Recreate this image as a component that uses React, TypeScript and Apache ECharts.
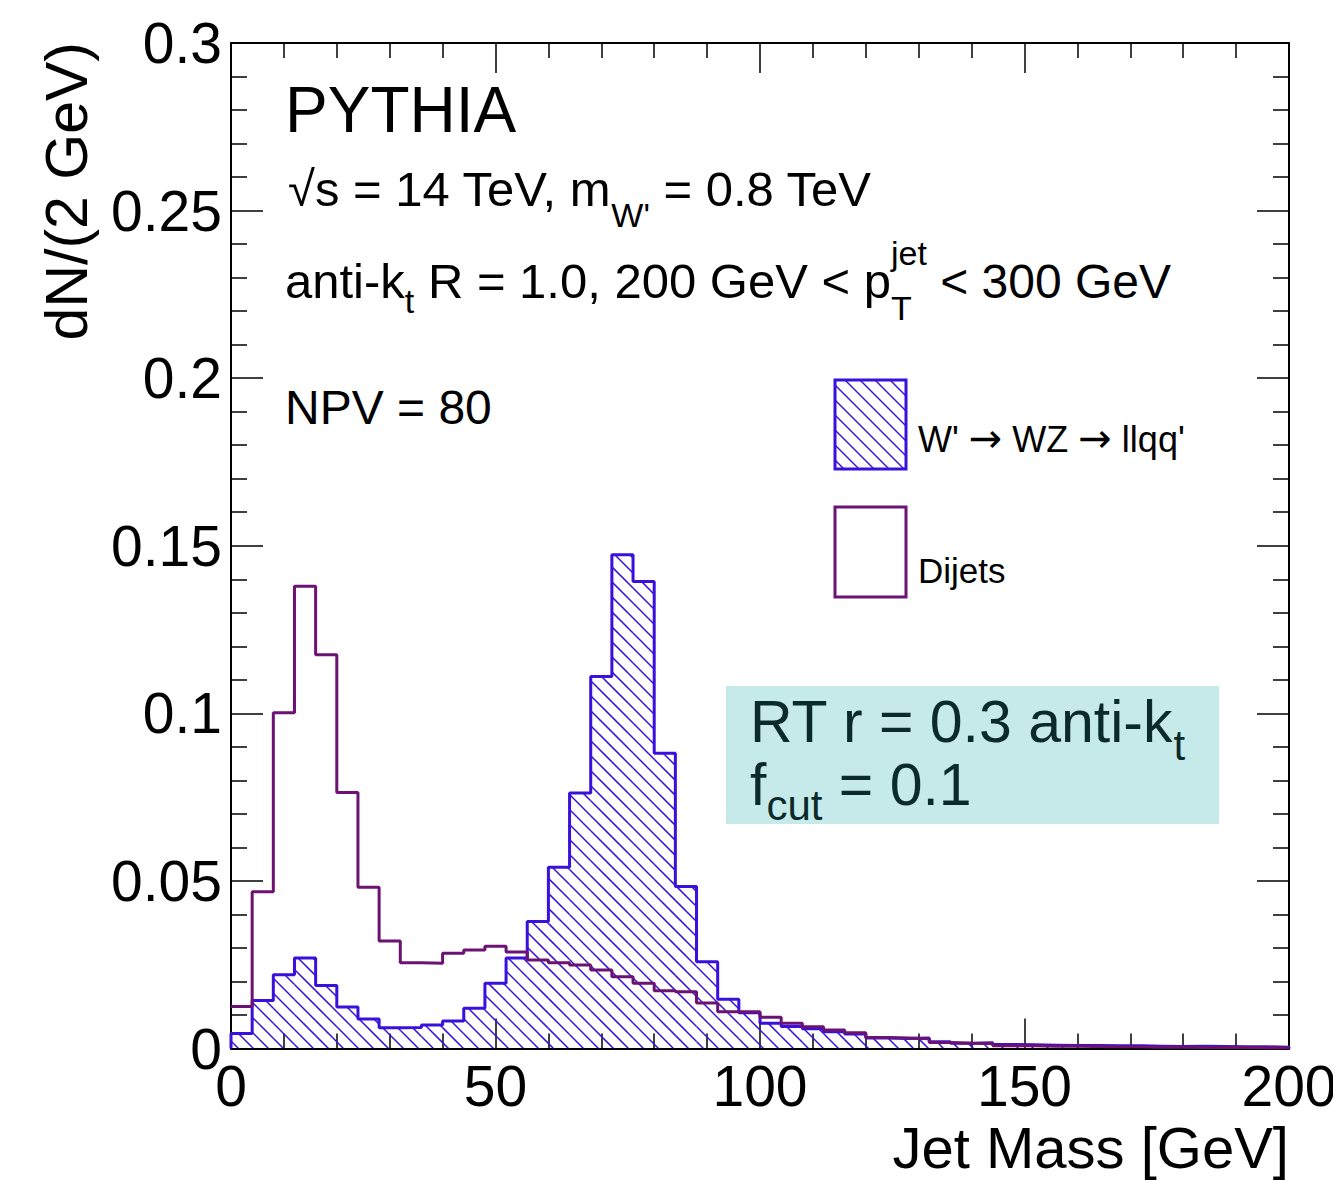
import React, { useEffect, useRef } from 'react';
import * as echarts from 'echarts';

// ---- data (4 GeV bins, 0..200 GeV) ----
const binEdges: number[] = Array.from({ length: 51 }, (_, i) => i * 4);

const wPrimeValues: number[] = [
  0.0045, 0.0143, 0.0220, 0.0270, 0.0188, 0.0124, 0.0088, 0.0062, 0.0063, 0.0070,
  0.0082, 0.0120, 0.0195, 0.0270, 0.0379, 0.0541, 0.0762, 0.1110, 0.1473, 0.1393,
  0.0881, 0.0483, 0.0259, 0.0147, 0.0107, 0.0075, 0.0066, 0.0059, 0.0050, 0.0043,
  0.0031, 0.0030, 0.0031, 0.0020, 0.0016, 0.0017, 0.0012, 0.0011, 0.0010, 0.0009,
  0.0009, 0.0008, 0.0008, 0.0007, 0.0006, 0.0007, 0.0006, 0.0005, 0.0005, 0.0004,
];

const dijetValues: number[] = [
  0.0125, 0.0468, 0.1002, 0.1379, 0.1175, 0.0764, 0.0481, 0.0321, 0.0256, 0.0254,
  0.0284, 0.0294, 0.0305, 0.0288, 0.0264, 0.0256, 0.0249, 0.0234, 0.0214, 0.0195,
  0.0172, 0.0169, 0.0136, 0.0110, 0.0110, 0.0093, 0.0075, 0.0065, 0.0055, 0.0047,
  0.0033, 0.0031, 0.0029, 0.0018, 0.0016, 0.0015, 0.0008, 0.0008, 0.0007, 0.0007,
  0.0006, 0.0005, 0.0005, 0.0004, 0.0004, 0.0003, 0.0003, 0.0003, 0.0002, 0.0002,
];

const seriesNames = ["W' \u2192 WZ \u2192 llqq'", 'Dijets'];

const BLUE = '#3a10dc';
const PURPLE = '#6b1272';
const FONT = '"Liberation Sans", Arial, Helvetica, sans-serif';
const ARROW_FONT = '"DejaVu Sans", sans-serif';
const HATCH_SP = 15;

let measureCtx: CanvasRenderingContext2D | null = null;
function measure(text: string, size: number, font: string = FONT): number {
  if (!measureCtx) measureCtx = document.createElement('canvas').getContext('2d');
  measureCtx!.font = `${size}px ${font}`;
  return measureCtx!.measureText(text).width;
}

type Part = { t: string; s: number; dy?: number; f?: string };
type Seg = Part | { stack: Part[] };

function txt(x: number, baseline: number, t: string, s: number, color: string, align = 'left', font = FONT) {
  return {
    type: 'text',
    x,
    y: baseline - 0.35 * s,
    silent: true,
    style: {
      text: t,
      fontSize: s,
      fontFamily: font,
      fill: color,
      lineHeight: Math.round(s * 0.9),
      align,
      textAlign: align,
      verticalAlign: 'middle',
      textVerticalAlign: 'middle',
    },
  };
}

function textRun(x: number, baseline: number, segs: Seg[], color: string) {
  const els: any[] = [];
  let cx = x;
  for (const seg of segs) {
    if ('stack' in seg) {
      let w = 0;
      for (const p of seg.stack) {
        els.push(txt(cx, baseline + (p.dy || 0), p.t, p.s, color, 'left', p.f || FONT));
        w = Math.max(w, measure(p.t, p.s, p.f || FONT));
      }
      cx += w;
    } else {
      els.push(txt(cx, baseline + (seg.dy || 0), seg.t, seg.s, color, 'left', seg.f || FONT));
      cx += measure(seg.t, seg.s, seg.f || FONT);
    }
  }
  return els;
}

function hatchLines(xa: number, xb: number, yt: number, yb: number, color: string) {
  const out: any[] = [];
  const kMin = Math.ceil((yt - xb) / HATCH_SP);
  const kMax = Math.floor((yb - xa) / HATCH_SP);
  for (let k = kMin; k <= kMax; k++) {
    const c = k * HATCH_SP;
    const xs = Math.max(xa, yt - c);
    const xe = Math.min(xb, yb - c);
    if (xe > xs) {
      out.push({
        type: 'line',
        silent: true,
        shape: { x1: xs, y1: xs + c, x2: xe, y2: xe + c },
        style: { stroke: color, lineWidth: 1.5 },
      });
    }
  }
  return out;
}

export default function App() {
  const ref = useRef<HTMLDivElement>(null);

  useEffect(() => {
    document.body.style.margin = '0';
    const chart = echarts.init(ref.current!, null, { renderer: 'svg' });

    const hatchData = wPrimeValues.map((v, i) => [binEdges[i], binEdges[i + 1], v]);
    const wLine: number[][] = [[0, 0]];
    wPrimeValues.forEach((v, i) => wLine.push([binEdges[i], v]));
    wLine.push([binEdges[binEdges.length - 1], wPrimeValues[wPrimeValues.length - 1]]);
    wLine.push([binEdges[binEdges.length - 1], 0]);
    const dLine: number[][] = dijetValues.map((v, i) => [binEdges[i], v]);
    dLine.push([binEdges[binEdges.length - 1], dijetValues[dijetValues.length - 1]]);

    const axisLineStyle = { color: '#000', width: 2 };
    const tickStyle = { color: '#000', width: 1.5 };

    const xBase = {
      type: 'value',
      min: 0,
      max: 200,
      interval: 50,
      axisLine: { show: true, onZero: false, lineStyle: axisLineStyle },
      axisTick: { show: true, inside: true, length: 30, lineStyle: tickStyle },
      minorTick: { show: true, splitNumber: 5, length: 15, lineStyle: tickStyle },
      splitLine: { show: false },
      minorSplitLine: { show: false },
    };
    const yBase = {
      type: 'value',
      min: 0,
      max: 0.3,
      interval: 0.05,
      axisLine: { show: true, onZero: false, lineStyle: axisLineStyle },
      axisTick: { show: true, inside: true, length: 32, lineStyle: tickStyle },
      minorTick: { show: true, splitNumber: 5, length: 16, lineStyle: tickStyle },
      splitLine: { show: false },
      minorSplitLine: { show: false },
    };

    const legendBox1 = { x: 835, y: 380, w: 71, h: 89 };
    const legendBox2 = { x: 835, y: 507, w: 71, h: 90 };
    const ARROW = '\u2192';

    const graphics: any[] = [
      // axis titles
      txt(1289, 1168, 'Jet Mass [GeV]', 58, '#000', 'right'),
      {
        type: 'text',
        x: 67,
        y: 42,
        rotation: Math.PI / 2,
        silent: true,
        style: {
          text: 'dN/(2 GeV)',
          fontSize: 59,
          fontFamily: FONT,
          fill: '#000',
          lineHeight: 52,
          align: 'right',
          textAlign: 'right',
          verticalAlign: 'middle',
          textVerticalAlign: 'middle',
        },
      },
      // info texts
      txt(285, 132, 'PYTHIA', 64, '#000'),
      ...textRun(288, 206, [
        { t: '\u221As = 14 TeV, m', s: 49 },
        { t: "W'", s: 34, dy: 21 },
        { t: ' = 0.8 TeV', s: 49 },
      ], '#000'),
      ...textRun(285, 298, [
        { t: 'anti-k', s: 49 },
        { t: 't', s: 34, dy: 15 },
        { t: ' R = 1.0, 200 GeV < p', s: 49 },
        { stack: [{ t: 'T', s: 34, dy: 22 }, { t: 'jet', s: 34, dy: -33 }] },
        { t: ' < 300 GeV', s: 48 },
      ], '#000'),
      txt(285, 424, 'NPV = 80', 48, '#000'),
      // legend
      {
        type: 'rect',
        silent: true,
        shape: { x: legendBox1.x, y: legendBox1.y, width: legendBox1.w, height: legendBox1.h },
        style: { fill: '#fff', stroke: 'none' },
      },
      ...hatchLines(legendBox1.x, legendBox1.x + legendBox1.w, legendBox1.y, legendBox1.y + legendBox1.h, BLUE),
      {
        type: 'rect',
        silent: true,
        shape: { x: legendBox1.x, y: legendBox1.y, width: legendBox1.w, height: legendBox1.h },
        style: { fill: 'none', stroke: BLUE, lineWidth: 3 },
      },
      ...textRun(918, 452, [
        { t: "W' ", s: 36 },
        { t: ARROW, s: 40, f: ARROW_FONT },
        { t: ' WZ ', s: 36 },
        { t: ARROW, s: 40, f: ARROW_FONT },
        { t: " llqq'", s: 36 },
      ], '#000'),
      {
        type: 'rect',
        silent: true,
        shape: { x: legendBox2.x, y: legendBox2.y, width: legendBox2.w, height: legendBox2.h },
        style: { fill: '#fff', stroke: PURPLE, lineWidth: 3 },
      },
      txt(918, 583, seriesNames[1], 35, '#000'),
      // annotation box
      {
        type: 'rect',
        silent: true,
        shape: { x: 726, y: 686, width: 493, height: 138 },
        style: { fill: '#c6eaea', stroke: 'none' },
      },
      ...textRun(750, 743, [
        { t: 'RT r = 0.3 anti-k', s: 59 },
        { t: 't', s: 42, dy: 17 },
      ], '#0b2a2a'),
      ...textRun(750, 806, [
        { t: 'f', s: 59 },
        { t: 'cut', s: 42, dy: 14 },
        { t: ' = 0.1', s: 59 },
      ], '#0b2a2a'),
    ];

    chart.setOption({
      animation: false,
      backgroundColor: '#fff',
      grid: {
        left: 231,
        right: 44,
        top: 43,
        bottom: 131.5,
        containLabel: false,
        outerBoundsMode: 'none',
      },
      xAxis: [
        {
          ...xBase,
          position: 'bottom',
          axisLabel: {
            show: true,
            fontSize: 57,
            fontFamily: FONT,
            color: '#000',
            margin: 9,
            showMinLabel: true,
            showMaxLabel: true,
            hideOverlap: false,
          },
        },
        { ...xBase, position: 'top', axisLabel: { show: false } },
      ],
      yAxis: [
        {
          ...yBase,
          position: 'left',
          axisLabel: {
            show: true,
            fontSize: 57,
            fontFamily: FONT,
            color: '#000',
            margin: 9,
            showMinLabel: true,
            showMaxLabel: true,
            hideOverlap: false,
            formatter: (v: number) => String(+v.toFixed(2)),
          },
        },
        { ...yBase, position: 'right', axisLabel: { show: false } },
      ],
      series: [
        {
          type: 'custom',
          name: seriesNames[0] + ' hatch',
          xAxisIndex: 0,
          yAxisIndex: 0,
          z: 1,
          silent: true,
          clip: true,
          data: hatchData,
          encode: { x: [0, 1], y: 2 },
          renderItem: (params: any, api: any) => {
            const x0 = api.value(0);
            const x1 = api.value(1);
            const v = api.value(2);
            const tl = api.coord([x0, v]);
            const br = api.coord([x1, 0]);
            return { type: 'group', children: hatchLines(tl[0], br[0], tl[1], br[1], BLUE) };
          },
        },
        {
          type: 'line',
          name: seriesNames[0],
          xAxisIndex: 0,
          yAxisIndex: 0,
          z: 3,
          step: 'end',
          symbol: 'none',
          silent: true,
          data: wLine,
          lineStyle: { color: BLUE, width: 3 },
        },
        {
          type: 'line',
          name: seriesNames[1],
          xAxisIndex: 0,
          yAxisIndex: 0,
          z: 4,
          step: 'end',
          symbol: 'none',
          silent: true,
          data: dLine,
          lineStyle: { color: PURPLE, width: 3 },
        },
      ],
      graphic: graphics,
    });

    return () => {
      chart.dispose();
    };
  }, []);

  return <div ref={ref} style={{ width: 1333, height: 1180 }} />;
}
